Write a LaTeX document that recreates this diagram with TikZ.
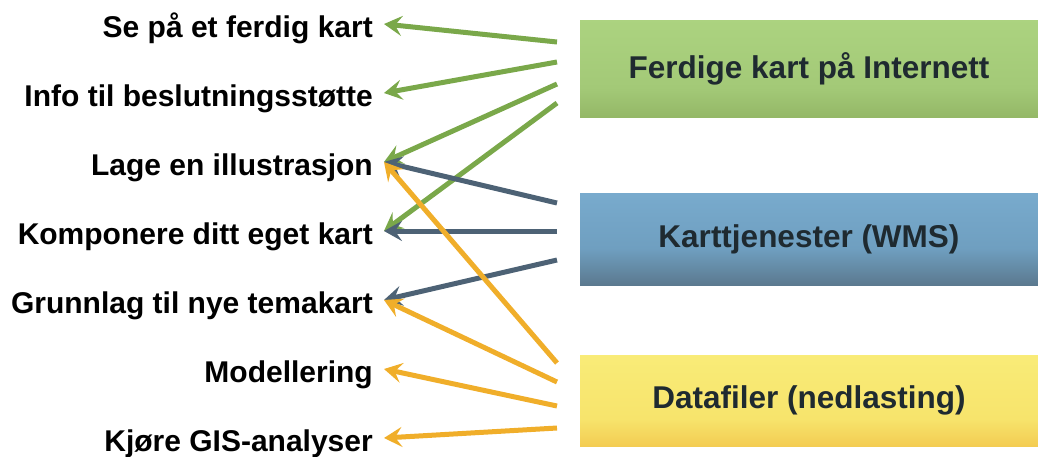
\documentclass[tikz,border=0pt]{standalone}
\usepackage{fontspec}
\setmainfont{Liberation Sans}
\usetikzlibrary{arrows.meta}
\definecolor{gline}{HTML}{7AA84A}
\definecolor{bline}{HTML}{4D6275}
\definecolor{oline}{HTML}{F0AE2A}
\definecolor{boxtext}{HTML}{1F2A30}
\definecolor{gtop}{HTML}{B2DA86}
\definecolor{gmid}{HTML}{A3C977}
\definecolor{gbot}{HTML}{7C9B4C}
\definecolor{btop}{HTML}{80B4D8}
\definecolor{bmid}{HTML}{6F9FC0}
\definecolor{bbot}{HTML}{4A5864}
\definecolor{ytop}{HTML}{FAF180}
\definecolor{ymid}{HTML}{F7E46C}
\definecolor{ybot}{HTML}{EDA428}
\pgfdeclareverticalshading{greenfill}{100bp}{color(0bp)=(gbot); color(40bp)=(gmid); color(100bp)=(gtop)}
\pgfdeclareverticalshading{bluefill}{100bp}{color(0bp)=(bbot); color(15bp)=(bbot!80!bmid); color(45bp)=(bmid); color(100bp)=(btop)}
\pgfdeclareverticalshading{yellowfill}{100bp}{color(0bp)=(ybot); color(40bp)=(ymid); color(100bp)=(ytop)}
\tikzset{
  lab/.style={font=\fontsize{30}{32}\bfseries, inner xsep=11pt, inner ysep=0pt,
    text height=26pt, text depth=0pt, anchor=base east},
  kilde/.style={shade, font=\fontsize{31.5}{34}\bfseries, text=boxtext, minimum width=458pt, inner sep=0pt},
  pil/.style={line width=5pt, -{Stealth[length=18pt, width=20pt, inset=7pt]}},
}
\begin{document}
\begin{tikzpicture}[x=1pt, y=-1pt]
  \useasboundingbox (0,0) rectangle (1038,456);
  % kildene til høyre
  \node[kilde, shading=greenfill, minimum height=97pt] (ferdig) at (809,68.5) {Ferdige kart på Internett};
  \node[kilde, shading=bluefill, minimum height=92pt] (wms) at (809,239) {Karttjenester (WMS)};
  \node[kilde, shading=yellowfill, minimum height=91pt] (data) at (809,400.5) {Datafiler (nedlasting)};
  % bruksområdene til venstre
  \foreach \navn/\yb/\tekst in {se/37/Se på et ferdig kart, info/106/Info til beslutningsstøtte,
      lage/175/Lage en illustrasjon, komp/244/Komponere ditt eget kart,
      grunn/313/Grunnlag til nye temakart, modell/382/Modellering, gis/451/Kjøre GIS-analyser}
    \node[lab] (\navn) at (384,\yb) {\tekst};
  % piler
  \foreach \i/\y/\til in {1/42/se, 2/62/info, 3/84/lage, 4/103/komp} {
    \coordinate (g\i) at (557,\y);
    \draw[pil, gline] (g\i) -- (\til.east);
  }
  \foreach \i/\y/\til in {1/203/lage, 2/231/komp, 3/260/grunn} {
    \coordinate (b\i) at (557,\y);
    \draw[pil, bline] (b\i) -- (\til.east);
  }
  \foreach \i/\y/\til in {1/363/lage, 2/382/grunn, 3/406/modell, 4/428/gis} {
    \coordinate (o\i) at (557,\y);
    \draw[pil, oline] (o\i) -- (\til.east);
  }
\end{tikzpicture}
\end{document}
